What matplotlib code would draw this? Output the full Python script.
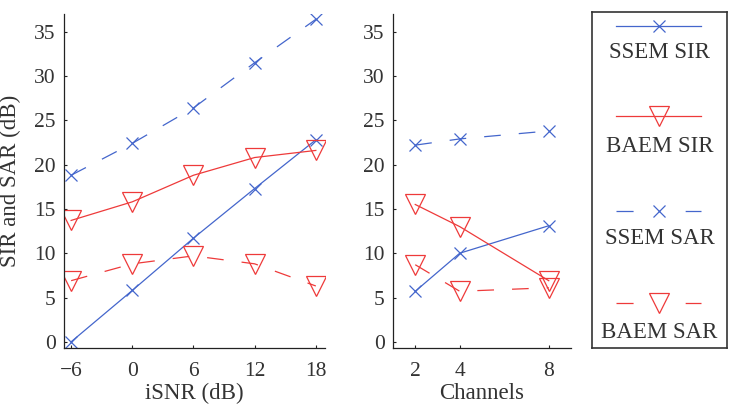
import matplotlib
matplotlib.use("Agg")
import matplotlib.pyplot as plt

plt.rcParams['font.family'] = ['Liberation Serif', 'DejaVu Serif']
plt.rcParams['lines.scale_dashes'] = False

isnr = [-6, 0, 6, 12, 18]
ssem_sir_snr = [0.0, 5.8, 11.7, 17.3, 22.8]
baem_sir_snr = [13.7, 15.8, 18.8, 20.8, 21.6]
ssem_sar_snr = [18.8, 22.4, 26.4, 31.5, 36.4]
baem_sar_snr = [6.9, 8.8, 9.7, 8.8, 6.3]

channels = [2, 4, 8]
ssem_sir_ch = [5.7, 10.0, 13.1]
baem_sir_ch = [15.5, 13.0, 6.9]
ssem_sar_ch = [22.2, 22.9, 23.8]
baem_sar_ch = [8.7, 5.7, 6.1]

labels = ['SSEM SIR', 'BAEM SIR', 'SSEM SAR', 'BAEM SAR']
yticks = [0, 5, 10, 15, 20, 25, 30, 35]

blue = '#4466cc'
red = '#ee3a3a'
txt = '#333333'
W, H = 733, 407
fig = plt.figure(figsize=(W / 100, H / 100), dpi=100)

dash = (0, (12, 13))
styles = [
    dict(color=blue, marker='x', ls='-', ms=9, mew=0.9),
    dict(color=red, marker='v', ls='-', ms=14, mew=0.9, mfc='none'),
    dict(color=blue, marker='x', ls=dash, ms=9, mew=0.9),
    dict(color=red, marker='v', ls=dash, ms=14, mew=0.9, mfc='none'),
]
TICK_FS = 15.5
LAB_FS = 16.5

def style_ax(ax):
    for s in ['top', 'right']:
        ax.spines[s].set_visible(False)
    for s in ['left', 'bottom']:
        ax.spines[s].set_color('#222222')
        ax.spines[s].set_linewidth(0.9)
    ax.tick_params(direction='in', length=2.5, width=0.8, colors='#222222',
                   labelcolor=txt, labelsize=TICK_FS)
    ax.tick_params(axis='x', pad=10)
    ax.tick_params(axis='y', pad=6)
    ax.set_ylim(-0.7, 37)
    ax.set_yticks(yticks)

ax1 = fig.add_axes([64 / W, 1 - 348 / H, (325 - 64) / W, (348 - 14) / H])
for data, st in zip([ssem_sir_snr, baem_sir_snr, ssem_sar_snr, baem_sar_snr], styles):
    ax1.plot(isnr, data, lw=0.9, **st)
style_ax(ax1)
ax1.set_xlim(-6.7, 18.9)
ax1.set_xticks(isnr)
ax1.set_xticklabels(['\u22126', '0', '6', '12', '18'])
ax1.set_xlabel('iSNR (dB)', fontsize=LAB_FS, color=txt)
ax1.xaxis.set_label_coords(0.5, (348 - 383) / 334)
ax1.set_ylabel('SIR and SAR (dB)', fontsize=LAB_FS, color=txt, va='center')
ax1.yaxis.set_label_coords((10 - 64) / 261, 0.5)

ax2 = fig.add_axes([393 / W, 1 - 348 / H, (571 - 393) / W, (348 - 14) / H])
for data, st in zip([ssem_sir_ch, baem_sir_ch, ssem_sar_ch, baem_sar_ch], styles):
    ax2.plot(channels, data, lw=0.9, **st)
style_ax(ax2)
ax2.set_xlim(1, 9)
ax2.set_xticks(channels)
ax2.set_xlabel('Channels', fontsize=LAB_FS, color=txt)
ax2.xaxis.set_label_coords(0.5, (348 - 383) / 334)

axl = fig.add_axes([592 / W, 1 - 348 / H, (727 - 592) / W, (348 - 12) / H])
axl.set_xlim(0, 1)
axl.set_ylim(0, 1)
axl.set_xticks([])
axl.set_yticks([])
for s in axl.spines.values():
    s.set_linewidth(1.2)
    s.set_color('#333333')
line_y = [1 - (26 - 12) / 336, 1 - (116 - 12) / 336, 1 - (211 - 12) / 336, 1 - (303 - 12) / 336]
text_y = [1 - (52 - 12) / 336, 1 - (147 - 12) / 336, 1 - (238 - 12) / 336, 1 - (332 - 12) / 336]
for lab, st, ly, ty in zip(labels, styles, line_y, text_y):
    axl.plot([0.18, 0.81], [ly, ly], lw=0.9, color=st['color'],
             ls=st['ls'] if st['ls'] == '-' else (0, (12.3, 37.5)))
    axl.plot([0.495], [ly], lw=0, color=st['color'], marker=st['marker'],
             ms=st['ms'], mew=st['mew'], mfc=st.get('mfc', st['color']))
    axl.text(0.5, ty, lab, ha='center', va='center', fontsize=LAB_FS, color=txt)

fig.savefig('out.png', dpi=100)
